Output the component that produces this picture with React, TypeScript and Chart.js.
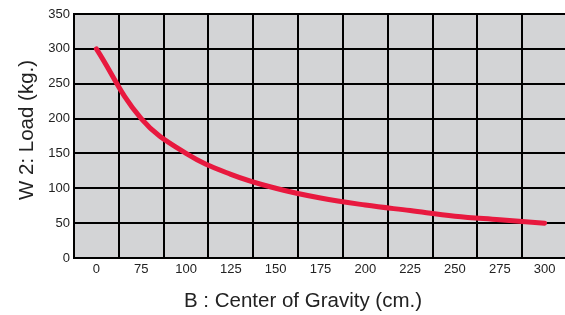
import React, { useEffect, useRef } from "react";
import { Chart, registerables } from "chart.js";

Chart.register(...registerables);

const categories: string[] = ["0", "75", "100", "125", "150", "175", "200", "225", "250", "275", "300"];
const loadValues: number[] = [300, 200, 150, 120, 100, 86, 76, 68, 60, 55, 50];
const yTicks: number[] = [0, 50, 100, 150, 200, 250, 300, 350];
const xTitle = "B : Center of Gravity (cm.)";
const yTitle = "W 2: Load (kg.)";

const FONT = "'Liberation Sans', Arial, Helvetica, sans-serif";

export default function App() {
  const ref = useRef<HTMLCanvasElement | null>(null);

  useEffect(() => {
    const canvas = ref.current;
    if (!canvas) return;

    const bgPlugin = {
      id: "plotBg",
      beforeDraw(chart: any) {
        const { ctx, chartArea } = chart;
        ctx.save();
        ctx.fillStyle = "#d3d4d6";
        ctx.fillRect(chartArea.left, chartArea.top, chartArea.right - chartArea.left, chartArea.bottom - chartArea.top);
        ctx.restore();
      },
    };

    const titlePlugin = {
      id: "axisTitles",
      afterDraw(chart: any) {
        const { ctx, chartArea } = chart;
        ctx.save();
        ctx.fillStyle = "#222222";
        ctx.font = `20.5px ${FONT}`;
        ctx.textAlign = "center";
        ctx.textBaseline = "middle";
        ctx.fillText(xTitle, 303, 301);
        ctx.translate(27, (chartArea.top + chartArea.bottom) / 2 - 6);
        ctx.rotate(-Math.PI / 2);
        ctx.fillText(yTitle, 0, 0);
        ctx.restore();
      },
    };

    const chart = new Chart(canvas, {
      type: "line",
      data: {
        labels: categories,
        datasets: [
          {
            data: loadValues,
            borderColor: "#e8193f",
            borderWidth: 5,
            tension: 0.4,
            pointRadius: 0,
            borderCapStyle: "round",
            fill: false,
          },
        ],
      },
      options: {
        responsive: false,
        animation: false,
        devicePixelRatio: 1,
        layout: { padding: { top: 14, right: 18, left: 0, bottom: 0 } },
        plugins: {
          legend: { display: false },
          tooltip: { enabled: false },
        },
        scales: {
          x: {
            type: "category",
            offset: true,
            grid: {
              offset: true,
              color: "#000000",
              lineWidth: 2,
              drawTicks: false,
            },
            border: { display: true, color: "#000000", width: 2 },
            ticks: {
              color: "#222222",
              font: { family: FONT, size: 13 },
              padding: 4,
              maxRotation: 0,
              autoSkip: false,
            },
            afterFit(scale: any) {
              scale.height = 57;
            },
          },
          y: {
            min: 0,
            max: 350,
            afterBuildTicks(scale: any) {
              scale.ticks = yTicks.map((v) => ({ value: v }));
            },
            grid: {
              color: "#000000",
              lineWidth: 2,
              drawTicks: false,
            },
            border: { display: true, color: "#000000", width: 2 },
            ticks: {
              color: "#222222",
              font: { family: FONT, size: 13 },
              padding: 4,
            },
            afterFit(scale: any) {
              scale.width = 74;
            },
          },
        },
      },
      plugins: [bgPlugin, titlePlugin],
    } as any);

    return () => chart.destroy();
  }, []);

  return (
    <div
      style={{
        position: "fixed",
        left: 0,
        top: 0,
        width: 565,
        height: 315,
        overflow: "hidden",
        background: "#ffffff",
      }}
    >
      <canvas ref={ref} width={585} height={315} style={{ width: 585, height: 315, display: "block" }} />
    </div>
  );
}
